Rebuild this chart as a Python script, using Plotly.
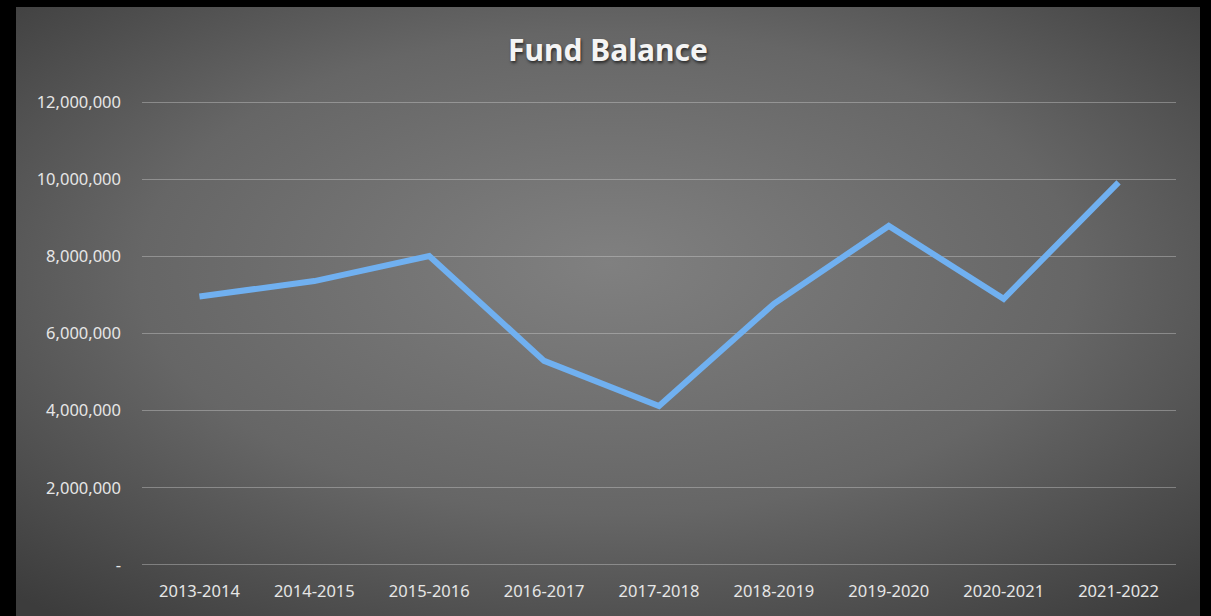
import base64
import plotly.graph_objects as go

categories = ["2013-2014", "2014-2015", "2015-2016", "2016-2017", "2017-2018",
              "2018-2019", "2019-2020", "2020-2021", "2021-2022"]
fund_balance = [6960000, 7360000, 8010000, 5290000, 4120000,
                6770000, 8790000, 6900000, 9920000]
y_tick_values = [0, 2000000, 4000000, 6000000, 8000000, 10000000, 12000000]
y_tick_labels = ["-", "2,000,000", "4,000,000", "6,000,000", "8,000,000", "10,000,000", "12,000,000"]

W, H = 1211, 616
ML, MR, MT, MB = 142, 35, 101, 50
pw, ph = W - ML - MR, H - MT - MB

# radial gradient background (styling only)
svg = (
    '<svg xmlns="http://www.w3.org/2000/svg" width="1184" height="609" viewBox="0 0 1184 609" preserveAspectRatio="none">'
    '<defs><radialGradient id="g" cx="50%" cy="45%" r="72%" fx="50%" fy="42%">'
    '<stop offset="0%" stop-color="#808080"/>'
    '<stop offset="55%" stop-color="#666666"/>'
    '<stop offset="100%" stop-color="#3c3c3c"/>'
    '</radialGradient></defs>'
    '<rect width="1184" height="609" fill="url(#g)"/></svg>'
)
src = "data:image/svg+xml;base64," + base64.b64encode(svg.encode()).decode()

gx0, gx1, gy0, gy1 = 16, 1200, 7, 616

fig = go.Figure()
fig.add_trace(go.Scatter(
    x=categories, y=fund_balance, mode="lines",
    line=dict(color="#70B0F0", width=6),
    hoverinfo="x+y", showlegend=False,
))

fig.update_layout(
    width=W, height=H,
    margin=dict(l=ML, r=MR, t=MT, b=MB, pad=0),
    paper_bgcolor="#000000",
    plot_bgcolor="rgba(0,0,0,0)",
    images=[dict(
        source=src, xref="paper", yref="paper",
        x=(gx0 - ML) / pw, y=(H - MB - gy0) / ph,
        sizex=(gx1 - gx0) / pw, sizey=(gy1 - gy0) / ph,
        xanchor="left", yanchor="top", sizing="stretch", layer="below",
    )],
    title=dict(
        text="<b>Fund Balance</b>",
        x=(608) / W, xanchor="center",
        y=1 - 50 / H, yanchor="middle",
        font=dict(family="Noto Sans", size=30, color="#F4F4F4",
                  shadow="1px 2px 3px rgba(0,0,0,0.6)"),
    ),
    font=dict(family="Noto Sans", size=16.5, color="#E6E6E6"),
    xaxis=dict(
        type="category", showgrid=False, showline=False, zeroline=False,
        ticks="", ticklabelstandoff=13,
        tickfont=dict(family="Noto Sans", size=16.5, color="#E6E6E6"),
        range=[-0.5, len(categories) - 0.5],
    ),
    yaxis=dict(
        range=[-30000, 12030000], tickvals=y_tick_values, ticktext=y_tick_labels,
        showgrid=True, gridcolor="rgba(215,215,215,0.38)", gridwidth=1.3,
        zeroline=False, showline=False, ticks="", ticklabelstandoff=20,
        tickfont=dict(family="Noto Sans", size=16.5, color="#E6E6E6"),
    ),
)

fig.write_html("out.html")
